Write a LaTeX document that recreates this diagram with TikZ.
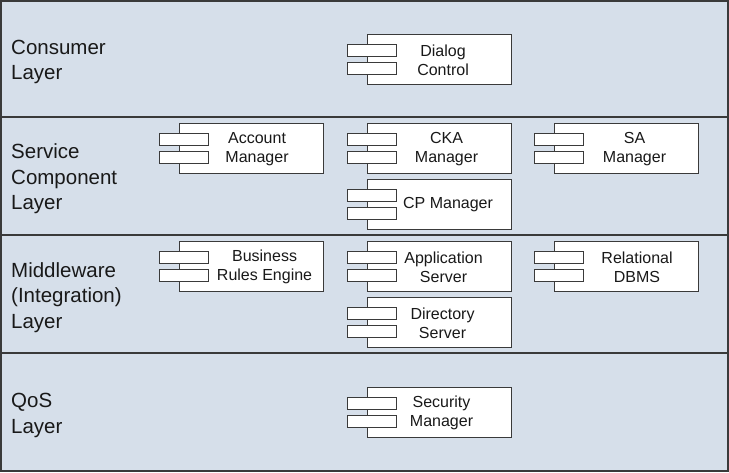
\documentclass[tikz,border=0pt]{standalone}
\usepackage{fontspec}
\setmainfont{Liberation Sans}
\usetikzlibrary{calc}
\definecolor{bandbg}{HTML}{D6DFEA}
\definecolor{linec}{HTML}{3A3A3A}
\tikzset{
  layerline/.style={draw=linec, line width=1.8pt},
  layerlabel/.style={anchor=west, align=left, font=\fontsize{20.5}{25.5}\selectfont, text=black!90, inner sep=0pt},
  cbox/.style={draw=linec, fill=white, line width=1.1pt, minimum width=144pt, minimum height=50pt, anchor=north west, inner sep=0pt},
  port/.style={draw=linec, fill=white, line width=1.1pt, minimum width=49pt, minimum height=12pt, anchor=north west, inner sep=0pt},
  ctext/.style={align=center, font=\fontsize{16}{18.5}\selectfont, text=black!90, inner sep=0pt}
}
\newcommand\compbox[5]{%
  \node[cbox] (#1) at (#2,#3) {};
  \node[port] (#1-p1) at ($(#1.north west)+(-20,10)$) {};
  \node[port] (#1-p2) at ($(#1.north west)+(-20,28)$) {};
  \node[ctext] (#1-t) at ($(#1.center)+(#4,0.5)$) {#5};
}
\begin{document}
\begin{tikzpicture}[x=1pt,y=-1pt]
  \useasboundingbox (0,0) rectangle (729,472);
  \fill[bandbg] (0,0) rectangle (729,472);
  \draw[layerline] (0.9,0.9) rectangle (728.1,471.1);
  \coordinate (l1a) at (0,117); \coordinate (l1b) at (729,117);
  \coordinate (l2a) at (0,235); \coordinate (l2b) at (729,235);
  \coordinate (l3a) at (0,353); \coordinate (l3b) at (729,353);
  \draw[layerline] (l1a) -- (l1b);
  \draw[layerline] (l2a) -- (l2b);
  \draw[layerline] (l3a) -- (l3b);
  \node[layerlabel] (consumer) at (11,62) {Consumer\\Layer};
  \node[layerlabel] (service) at (11,179) {Service\\Component\\Layer};
  \node[layerlabel] (middle) at (11,297.5) {Middleware\\(Integration)\\Layer};
  \node[layerlabel] (qos) at (11,415.5) {QoS\\Layer};
  \compbox{dialog}{367}{34}{3.5}{Dialog\\Control}
  \compbox{account}{179}{123}{5.5}{Account\\Manager}
  \compbox{cka}{367}{123}{7}{CKA\\Manager}
  \compbox{sa}{554}{123}{8}{SA\\Manager}
  \compbox{cp}{367}{179}{8.5}{CP Manager}
  \compbox{business}{179}{241}{13}{Business\\Rules Engine}
  \compbox{app}{367}{241}{4}{Application\\Server}
  \compbox{rdbms}{554}{241}{10.5}{Relational\\DBMS}
  \compbox{directory}{367}{297}{3}{Directory\\Server}
  \compbox{security}{367}{387}{2}{Security\\Manager}
\end{tikzpicture}
\end{document}
